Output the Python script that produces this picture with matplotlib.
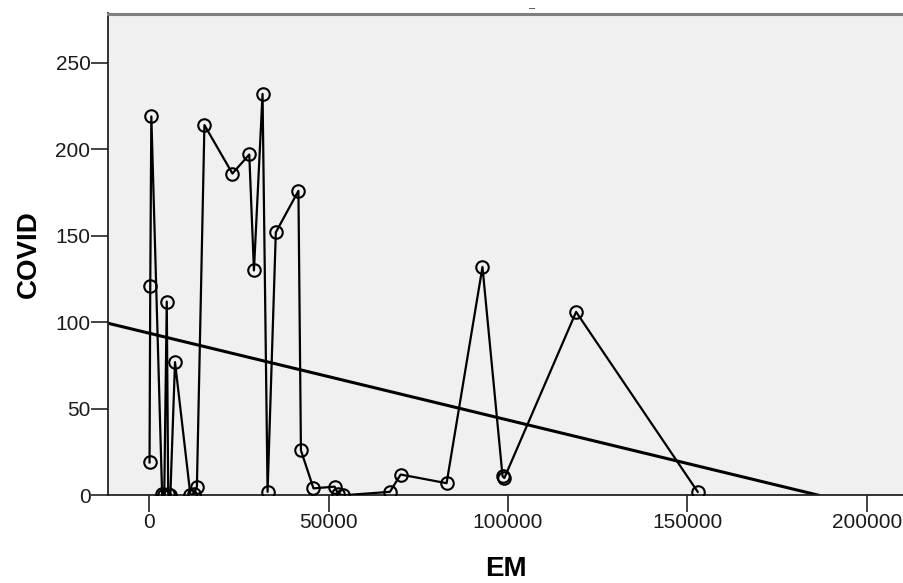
import numpy as np
import matplotlib
matplotlib.use("Agg")
import matplotlib.pyplot as plt

# EM vs COVID (sorted by EM, joined in that order)
em = [100, 300, 600, 3600, 4200, 4900, 5300, 5900, 7200, 11500, 12500, 13300,
      15400, 23200, 27900, 29200, 31600, 33000, 35300, 41600, 42300, 45800,
      51700, 52600, 54000, 67100, 70100, 82900, 92900, 98500, 99000, 119000, 152900]
covid = [19, 121, 219, 1, 0, 112, 1, 0, 77, 0, 1, 5,
         214, 186, 197, 130, 232, 2, 152, 176, 26, 4,
         5, 1, 0, 2, 12, 7, 132, 11, 10, 106, 2]

# fit line (total)
fit_intercept = 93.7
fit_slope = -5.02e-4

x_ticks = [0, 50000, 100000, 150000, 200000]
y_ticks = [0, 50, 100, 150, 200, 250]

plt.rcParams['font.family'] = ['Liberation Sans', 'DejaVu Sans']

fig = plt.figure(figsize=(9.04, 5.83), dpi=100)
ax = fig.add_axes([108.5 / 904, 87.7 / 583, (904 - 108.5) / 904, (495.3 - 13.5) / 583])
ax.set_facecolor('#f0f0f0')

xmin, xmax = -11340, 210400
ax.set_xlim(xmin, xmax)
ax.set_ylim(0, 278.5)

# data line with open circles
ax.plot(em, covid, color='black', lw=1.6, zorder=3)
ax.plot(em, covid, linestyle='none', marker='o', markersize=9,
        markerfacecolor='none', markeredgecolor='black', markeredgewidth=1.5, zorder=4)

# fit line, clipped where it reaches the x axis
x_end = -fit_intercept / fit_slope
fx = np.array([xmin, x_end])
ax.plot(fx, fit_intercept + fit_slope * fx, color='black', lw=2.2, zorder=2)

ax.set_xticks(x_ticks)
ax.set_xticklabels([str(t) for t in x_ticks])
ax.set_yticks(y_ticks)
ax.set_yticklabels([str(t) for t in y_ticks])
ax.tick_params(axis='both', length=12, width=1.2, color='#222222',
               labelsize=15, labelcolor='#1a1a1a', pad=1)

ax.spines['right'].set_visible(False)
ax.spines['top'].set_color('#808080')
ax.spines['top'].set_linewidth(2.2)
ax.spines['left'].set_color('#222222')
ax.spines['left'].set_linewidth(1.3)
ax.spines['bottom'].set_color('#222222')
ax.spines['bottom'].set_linewidth(1.3)

ax.set_xlabel('EM', fontsize=20, fontweight='bold', labelpad=17)
ax.set_ylabel('COVID', fontsize=20, fontweight='bold', labelpad=10)

fig.text(532 / 904, 1 - 8 / 583, '\u2013', fontsize=8, ha='center', va='center', color='#333333')

fig.savefig('out.png', dpi=100, facecolor='white')
